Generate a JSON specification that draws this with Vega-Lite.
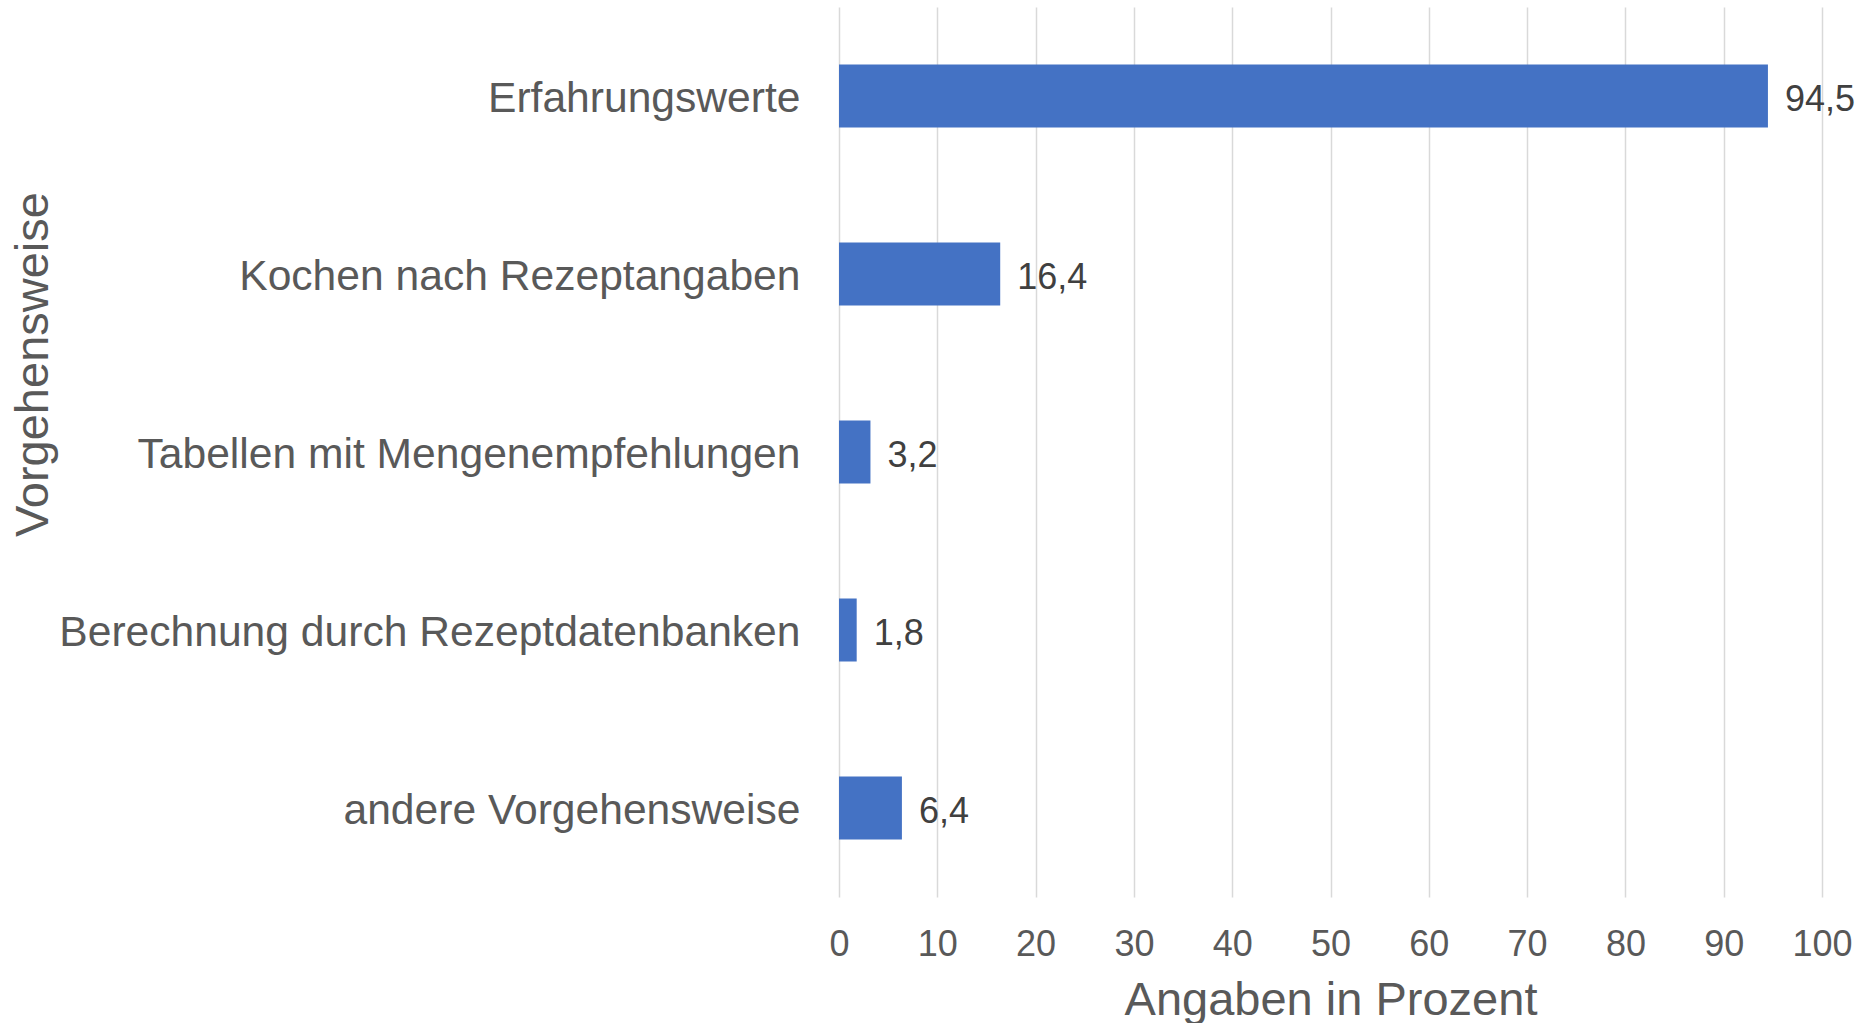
{
  "$schema": "https://vega.github.io/schema/vega-lite/v6.json",
  "autosize": {"type": "none"},
  "padding": {"left": 839, "top": 7, "right": 42, "bottom": 126},
  "width": 983,
  "height": 890,
  "background": "white",
  "config": {
    "view": {"stroke": null},
    "font": "Liberation Sans",
    "locale": {"number": {"decimal": ",", "thousands": ".", "grouping": [3], "currency": ["", " €"]}}
  },
  "data": {
    "values": [
      {"kategorie": "Erfahrungswerte", "wert": 94.5},
      {"kategorie": "Kochen nach Rezeptangaben", "wert": 16.4},
      {"kategorie": "Tabellen mit Mengenempfehlungen", "wert": 3.2},
      {"kategorie": "Berechnung durch Rezeptdatenbanken", "wert": 1.8},
      {"kategorie": "andere Vorgehensweise", "wert": 6.4}
    ]
  },
  "encoding": {
    "y": {
      "field": "kategorie",
      "type": "nominal",
      "sort": null,
      "scale": {"paddingInner": 0.647, "paddingOuter": 0.3235},
      "axis": {
        "title": "Vorgehensweise",
        "titleFontSize": 47,
        "titleFontWeight": "normal",
        "titleColor": "#595959",
        "titleAngle": -90,
        "titleX": -806,
        "titleY": 357,
        "titleAlign": "center",
        "titleBaseline": "middle",
        "labelFontSize": 42.6,
        "labelColor": "#595959",
        "labelPadding": 39,
        "labelOffset": 3,
        "labelLimit": 900,
        "ticks": false,
        "tickSize": 0,
        "domain": false,
        "grid": false
      }
    },
    "x": {
      "field": "wert",
      "type": "quantitative",
      "scale": {"domain": [0, 100], "nice": false},
      "axis": {
        "title": "Angaben in Prozent",
        "titleFontSize": 47,
        "titleFontWeight": "normal",
        "titleColor": "#595959",
        "titleBaseline": "alphabetic",
        "titleY": 117,
        "values": [0, 10, 20, 30, 40, 50, 60, 70, 80, 90, 100],
        "format": "d",
        "labelFontSize": 36,
        "labelColor": "#595959",
        "labelBaseline": "alphabetic",
        "labelPadding": 58,
        "labelFlush": false,
        "ticks": false,
        "tickSize": 0,
        "domain": false,
        "grid": true,
        "gridColor": "#D9D9D9",
        "gridWidth": 1.5
      }
    }
  },
  "layer": [
    {"mark": {"type": "bar", "color": "#4472C4"}},
    {
      "mark": {"type": "text", "align": "left", "baseline": "middle", "dx": 17, "dy": 4, "fontSize": 36, "color": "#404040"},
      "encoding": {"text": {"field": "wert", "type": "quantitative", "format": ".1f"}}
    }
  ]
}
